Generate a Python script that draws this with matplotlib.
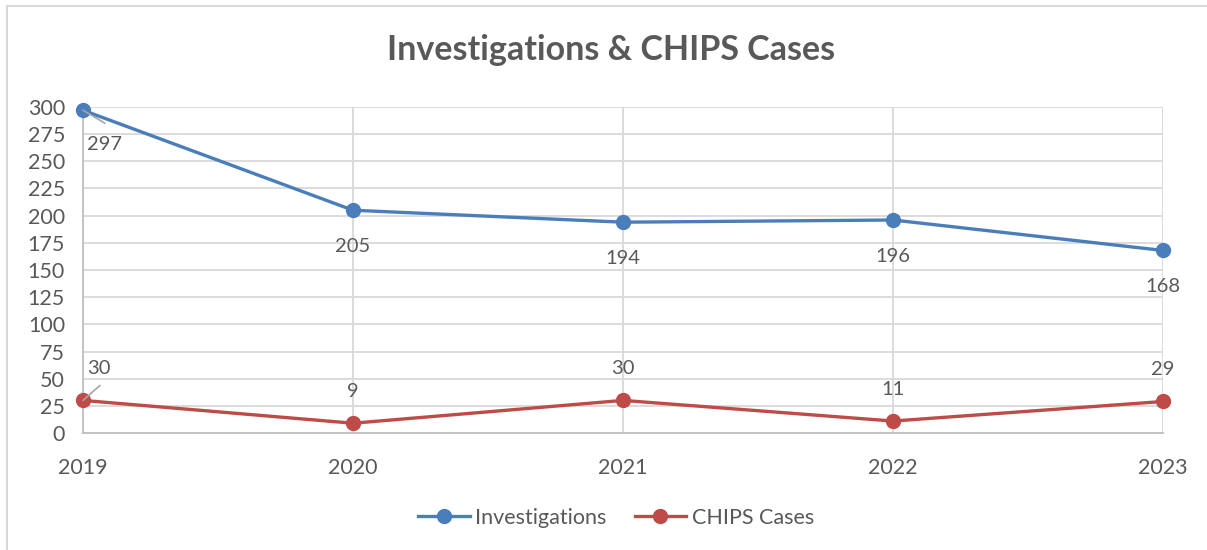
import matplotlib
matplotlib.use("Agg")
import matplotlib.pyplot as plt
from matplotlib.lines import Line2D

years = ["2019", "2020", "2021", "2022", "2023"]
investigations = [297, 205, 194, 196, 168]
chips = [30, 9, 30, 11, 29]
yticks = [0, 25, 50, 75, 100, 125, 150, 175, 200, 225, 250, 275, 300]

plt.rcParams['font.family'] = ['Lato', 'DejaVu Sans']
txt = '#595959'
blue = '#4A7EBB'
red = '#BE4B48'
grid = '#D9D9D9'

fig = plt.figure(figsize=(12.07, 5.5), dpi=100)
# chart-area border: only top and left edges visible in the reference
fig.lines.append(Line2D([7/1207, 1], [1 - 6/550, 1 - 6/550], transform=fig.transFigure,
                        color='#D9D9D9', lw=1.5))
fig.lines.append(Line2D([7/1207, 7/1207], [0, 1 - 6/550], transform=fig.transFigure,
                        color='#D9D9D9', lw=1.5))

ax = fig.add_axes([83/1207, 1 - 433/550, (1163 - 83)/1207, (433 - 107)/550])
x = list(range(len(years)))
ax.plot(x, investigations, color=blue, lw=2.4, marker='o', ms=10, label='Investigations',
        zorder=3, clip_on=False)
ax.plot(x, chips, color=red, lw=2.4, marker='o', ms=10, label='CHIPS Cases',
        zorder=3, clip_on=False)
ax.set_xlim(0, len(years) - 1)
ax.set_ylim(0, 300)
ax.set_yticks(yticks)
ax.set_xticks(x)
ax.set_xticklabels(years)
ax.grid(True, color=grid, lw=1.3, zorder=0)
for s in ['top', 'right']:
    ax.spines[s].set_visible(False)
for s in ['left', 'bottom']:
    ax.spines[s].set_color('#BFBFBF')
    ax.spines[s].set_linewidth(1.3)
ax.tick_params(length=0, labelsize=15.5, labelcolor=txt)
ax.tick_params(axis='x', pad=18)
ax.tick_params(axis='y', pad=13)

fs = 14.5
for i, v in enumerate(investigations):
    if i == 0:
        ax.annotate(str(v), (i, v), xytext=(22, -34), textcoords='offset pixels',
                    ha='center', va='center', fontsize=fs, color=txt)
        ax.annotate('', (i, v), xytext=(22, -13), textcoords='offset pixels',
                    arrowprops=dict(arrowstyle='-', color='#A6A6A6', lw=1.2, shrinkA=0, shrinkB=0))
    else:
        ax.annotate(str(v), (i, v), xytext=(0, -36), textcoords='offset pixels',
                    ha='center', va='center', fontsize=fs, color=txt)
for i, v in enumerate(chips):
    if i == 0:
        ax.annotate(str(v), (i, v), xytext=(16, 32), textcoords='offset pixels',
                    ha='center', va='center', fontsize=fs, color=txt)
        ax.annotate('', (i, v), xytext=(17, 15), textcoords='offset pixels',
                    arrowprops=dict(arrowstyle='-', color='#A6A6A6', lw=1.2, shrinkA=0, shrinkB=0))
    else:
        ax.annotate(str(v), (i, v), xytext=(0, 32), textcoords='offset pixels',
                    ha='center', va='center', fontsize=fs, color=txt)

fig.text(611/1207, 1 - 50/550, 'Investigations & CHIPS Cases', ha='center', va='center',
         fontsize=24.5, fontweight='bold', color=txt)
leg = fig.legend(loc='center', bbox_to_anchor=(616/1207, 1 - 518/550), ncol=2, frameon=False,
                 fontsize=15.5, labelcolor=txt, handlelength=2.4, columnspacing=1.3,
                 handletextpad=0.25)
fig.savefig('out.png', dpi=100)
